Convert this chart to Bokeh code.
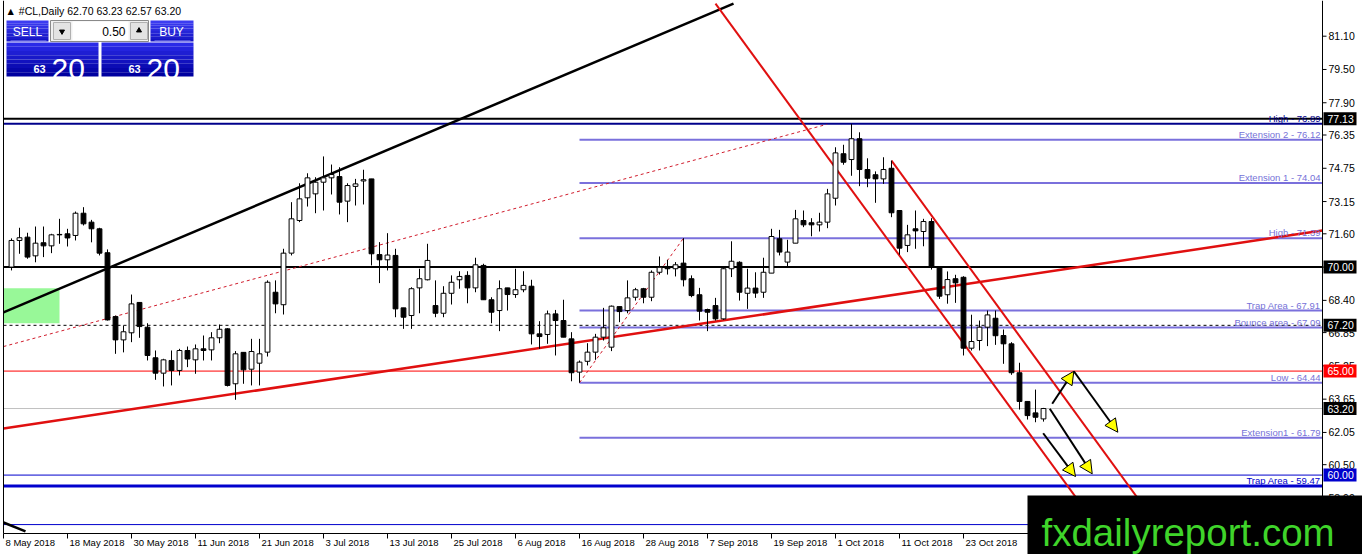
import pandas as pd
from bokeh.plotting import figure
from bokeh.models import ColumnDataSource, Range1d, Arrow, NormalHead
from bokeh.embed import file_html
from bokeh.resources import INLINE
from bokeh.core.properties import value

# ---------------- data ----------------
symbol = "#CL,Daily"
header_ohlc = [62.70, 63.23, 62.57, 63.20]
first_slot_date = "2018-05-08"      # left-most axis slot; bars start on the next trading day

opens = [70.00, 71.28, 71.44, 70.54, 71.17, 71.02, 71.55, 71.60, 71.52, 72.59,
         72.16, 71.84, 70.69, 67.62, 66.50, 66.84, 68.30, 67.11, 65.64, 64.90,
         65.51, 65.03, 65.99, 65.54, 66.07, 66.02, 66.60, 67.03, 64.39, 65.90,
         65.09, 65.38, 65.91, 68.79, 68.19, 70.67, 72.24, 73.33, 73.52, 74.08,
         74.29, 74.35, 73.17, 73.88, 74.14, 74.24, 70.60, 70.35, 70.56, 68.04,
         67.67, 69.00, 69.39, 68.15, 67.78, 68.74, 69.39, 69.60, 69.00, 70.08,
         68.43, 67.91, 69.00, 68.68, 68.91, 69.08, 66.79, 66.76, 67.75, 67.43,
         66.55, 64.95, 65.47, 65.91, 66.63, 66.15, 68.10, 67.91, 68.55, 68.96,
         68.55, 69.75, 70.03, 69.92, 70.19, 69.44, 68.67, 67.96, 68.15, 67.51,
         69.92, 70.23, 68.74, 68.99, 68.79, 69.71, 71.36, 70.24, 71.15, 72.24,
         72.13, 72.03, 72.16, 73.31, 75.45, 75.17, 76.17, 74.69, 74.44, 74.24,
         74.75, 72.72, 71.04, 71.84, 71.71, 72.19, 69.99, 68.67, 69.44, 69.51,
         66.10, 66.47, 67.11, 67.54, 66.71, 66.31, 64.92, 63.54, 62.99, 62.70]
highs = [71.38, 71.89, 71.65, 71.95, 71.95, 71.60, 72.32, 71.84, 72.67, 72.88,
         72.27, 71.89, 70.85, 67.67, 67.19, 68.68, 68.30, 67.30, 65.99, 65.59,
         65.99, 66.07, 66.18, 66.28, 66.71, 66.87, 67.24, 67.06, 65.96, 65.90,
         66.55, 66.55, 69.36, 69.36, 70.88, 73.12, 74.03, 74.51, 74.32, 75.32,
         74.93, 74.80, 74.03, 74.24, 74.68, 74.24, 71.20, 71.63, 70.88, 68.04,
         69.03, 69.92, 71.12, 69.36, 69.08, 69.60, 69.80, 69.80, 70.45, 70.16,
         68.55, 69.36, 69.00, 69.92, 69.80, 69.39, 67.40, 67.91, 67.94, 68.43,
         66.87, 65.51, 66.34, 66.79, 68.04, 68.15, 68.10, 69.36, 69.00, 69.00,
         69.84, 70.51, 70.35, 70.24, 71.39, 69.60, 69.00, 68.00, 68.52, 70.00,
         71.24, 70.28, 69.92, 69.75, 70.45, 71.84, 71.79, 71.31, 72.75, 72.72,
         72.35, 72.61, 73.76, 75.76, 75.88, 76.89, 76.48, 75.23, 74.60, 75.28,
         75.12, 72.72, 72.03, 72.72, 72.32, 72.35, 70.04, 69.79, 69.63, 69.56,
         67.71, 67.43, 67.91, 67.91, 67.00, 66.39, 65.40, 63.54, 64.11, 63.23]
lows = [69.84, 70.64, 70.40, 70.23, 70.48, 70.67, 71.12, 70.99, 71.28, 72.00,
        71.19, 70.56, 67.43, 65.83, 65.90, 66.39, 66.60, 65.51, 64.58, 64.26,
        64.31, 64.79, 65.19, 64.87, 65.51, 65.51, 66.34, 64.26, 63.62, 64.39,
        64.31, 64.31, 65.70, 67.78, 67.72, 70.56, 72.16, 72.91, 72.59, 72.72,
        73.49, 72.53, 72.16, 72.96, 73.01, 70.08, 69.23, 69.84, 67.59, 67.03,
        67.03, 67.78, 69.36, 67.59, 67.59, 68.20, 68.96, 68.26, 68.79, 68.43,
        67.30, 66.92, 67.91, 68.52, 68.79, 66.28, 66.07, 66.31, 65.75, 66.63,
        64.51, 64.44, 65.27, 65.54, 66.47, 65.96, 67.35, 67.78, 68.39, 68.26,
        68.36, 69.64, 69.64, 69.55, 69.07, 68.55, 67.43, 66.92, 67.43, 67.46,
        69.52, 68.39, 67.99, 68.52, 68.52, 69.71, 70.56, 70.03, 71.15, 71.92,
        71.48, 71.71, 71.87, 72.96, 74.92, 74.39, 73.89, 73.84, 73.09, 74.00,
        72.40, 70.59, 70.72, 70.88, 71.00, 69.88, 68.47, 68.24, 68.28, 65.75,
        65.99, 65.99, 66.20, 66.26, 65.35, 64.82, 63.15, 62.67, 62.54, 62.57]
closes = [71.28, 71.41, 70.48, 71.15, 71.02, 71.55, 71.57, 71.40, 72.59, 72.08,
          71.84, 70.67, 67.46, 66.50, 66.89, 68.23, 67.14, 65.75, 64.90, 65.54,
          65.03, 65.99, 65.58, 66.07, 65.99, 66.60, 67.01, 64.31, 65.83, 65.06,
          65.94, 65.83, 69.27, 68.23, 70.67, 72.32, 73.28, 74.29, 74.08, 74.29,
          74.45, 73.12, 73.92, 74.00, 74.20, 70.64, 70.35, 70.58, 67.99, 67.59,
          68.96, 69.44, 70.32, 67.78, 68.74, 69.27, 69.55, 69.00, 70.11, 68.43,
          67.83, 68.96, 68.68, 68.91, 69.12, 66.79, 66.66, 67.75, 67.43, 66.63,
          64.92, 65.43, 65.91, 66.63, 67.08, 68.12, 67.86, 68.52, 68.91, 68.55,
          69.75, 69.99, 69.92, 70.11, 69.39, 68.63, 67.88, 67.83, 67.51, 69.92,
          70.28, 68.79, 68.99, 68.75, 69.75, 71.47, 70.72, 70.72, 72.32, 72.03,
          72.03, 72.16, 73.52, 75.49, 75.04, 76.17, 74.69, 74.27, 74.24, 74.69,
          72.61, 70.91, 71.55, 71.74, 72.19, 70.04, 68.60, 69.40, 69.24, 66.10,
          66.42, 67.11, 67.70, 66.70, 66.31, 64.92, 63.54, 62.86, 62.78, 63.20]

date_tick_labels = ["8 May 2018", "18 May 2018", "30 May 2018", "11 Jun 2018",
                    "21 Jun 2018", "3 Jul 2018", "13 Jul 2018", "25 Jul 2018",
                    "6 Aug 2018", "16 Aug 2018", "28 Aug 2018", "7 Sep 2018",
                    "19 Sep 2018", "1 Oct 2018", "11 Oct 2018", "23 Oct 2018"]
price_ticks = [81.10, 79.50, 77.90, 76.35, 74.75, 73.15, 71.60, 70.00,
               68.40, 66.85, 65.25, 63.65, 62.05, 60.50, 58.90]

full_levels = [77.13, 76.89, 70.00, 67.20, 65.00, 63.20, 60.00, 59.47, 57.62]
tagged_levels = [76.89, 59.47]
tagged_names = ["High", "Trap Area"]
fib_levels = [76.12, 74.04, 71.39, 67.91, 67.09, 64.44, 61.79]
fib_names = ["Extension 2", "Extension 1", "High", "Trap Area", "Bounce area", "Low", "Extension1"]
fib_start_date = "2018-08-16"
price_boxes = [77.13, 70.00, 67.20, 65.00, 63.20, 60.00]

# trend lines: (bar slots, prices)
tl_black = ([0, 91.25], [67.82, 82.67])
tl_black_low = ([0, 2.75], [57.72, 57.29])
tl_red_dash = ([0, 102.9], [66.18, 76.86])
tl_red_support = ([0, 164.875], [62.24, 71.76])
tl_channel_lower = ([89, 137.35], [82.67, 57.19])
tl_channel_upper = ([111, 145.0], [75.12, 57.19])
tl_fib_swing = ([72, 85], [64.44, 71.39])
zone_slots = [0, 7]
zone_prices = [67.30, 68.98]
arrows_xy = [(131.09, 63.43, 133.79, 64.99), (133.79, 64.99, 139.29, 62.06),
             (130.79, 63.19, 136.09, 60.06), (129.96, 62.01, 134.00, 59.93)]

# ---------------- layout helpers (canvas pixels -> data) ----------------
W, H = 1362, 554
PXB = 8.0        # pixels per bar
PXP = 20.8       # pixels per dollar
def X(px):
    return (px - 3) / PXB
def Y(py):
    return 81.10 - (py - 35.7) / PXP

FONT = value("Liberation Sans")
CL, CR, CB = 3, 1322, 533     # chart area: left, right, bottom (canvas px)

slots = pd.bdate_range(first_slot_date, periods=len(opens) + 1)
bar_x = list(range(1, len(opens) + 1))
tick_slots = [int(slots.get_loc(pd.to_datetime(t, format="%d %b %Y"))) for t in date_tick_labels]
fib_x0 = int(slots.get_loc(pd.Timestamp(fib_start_date)))

p = figure(width=W, height=H, x_range=Range1d(X(0), X(W)), y_range=Range1d(Y(H), Y(0)),
           x_axis_location=None, y_axis_location=None,
           output_backend="svg", toolbar_location=None, min_border=0,
           background_fill_color="white", border_fill_color="white")
p.grid.visible = False
p.outline_line_color = None

# green zone
p.quad(left=[zone_slots[0]], right=[zone_slots[1]], bottom=[zone_prices[0]],
       top=[zone_prices[1]], fill_color="#98f898", line_color=None)

# full width levels
lvl_style = {77.13: ("black", 2, "solid"), 76.89: ("#00008b", 2, "solid"),
             70.00: ("black", 2, "solid"), 67.20: ("black", 1, "3 3"),
             65.00: ("#ff0000", 1, "solid"), 63.20: ("#c0c0c0", 1, "solid"),
             60.00: ("#0000cd", 1, "solid"), 59.47: ("#0000cd", 3, "solid"),
             57.62: ("#0000cd", 1, "solid")}
for lv in full_levels:
    c, w, d = lvl_style[lv]
    p.segment(x0=[X(CL)], y0=[lv], x1=[X(CR)], y1=[lv], line_color=c, line_width=w, line_dash=d)

# fib levels
FIB_C = "#7a70dc"
n = len(fib_levels)
p.segment(x0=[fib_x0] * n, y0=fib_levels, x1=[X(CR)] * n, y1=fib_levels,
          line_color=FIB_C, line_width=2)

# trend lines
p.line(tl_black[0], tl_black[1], line_color="black", line_width=2.5)
p.line(tl_black_low[0], tl_black_low[1], line_color="black", line_width=2.5)
p.line(tl_red_dash[0], tl_red_dash[1], line_color="#d01c2c", line_width=1, line_dash="3 3")
p.line(tl_fib_swing[0], tl_fib_swing[1], line_color="#d01c2c", line_width=1, line_dash="3 3")
p.line(tl_red_support[0], tl_red_support[1], line_color="#e01010", line_width=2.5)
p.line(tl_channel_lower[0], tl_channel_lower[1], line_color="#e01010", line_width=2)
p.line(tl_channel_upper[0], tl_channel_upper[1], line_color="#e01010", line_width=2)

# candles
src = ColumnDataSource(dict(
    x=bar_x, o=opens, h=highs, l=lows, c=closes,
    top=[max(a, b) for a, b in zip(opens, closes)],
    bot=[min(a, b) for a, b in zip(opens, closes)],
    fill=["white" if c >= o else "black" for o, c in zip(opens, closes)]))
p.segment(x0="x", y0="l", x1="x", y1="h", source=src, line_color="black", line_width=1)
p.vbar(x="x", width=0.6, top="top", bottom="bot", source=src, fill_color="fill",
       line_color="black", line_width=1)

# arrows
for (x0, y0, x1, y1) in arrows_xy:
    p.add_layout(Arrow(x_start=x0, y_start=y0, x_end=x1, y_end=y1, line_color="black",
                       line_width=2, end=NormalHead(size=13, fill_color="#ffff00",
                                                    line_color="black", line_width=1)))

# level labels (right-aligned, sitting on their lines)
lab_x, lab_y, lab_t, lab_c = [], [], [], []
for lv, nm in zip(fib_levels, fib_names):
    lab_x.append(X(CR - 2)); lab_y.append(lv); lab_t.append(f"{nm} - {lv:.2f}"); lab_c.append("#7672d8")
for lv, nm, tc in zip(tagged_levels, tagged_names, ["#00008b", "#0000cd"]):
    lab_x.append(X(CR - 2)); lab_y.append(lv); lab_t.append(f"{nm} - {lv:.2f}"); lab_c.append(tc)
p.text(x=lab_x, y=lab_y, text=lab_t, text_color=lab_c, text_font=FONT,
       text_font_size="9.5px", text_align="right", text_baseline="bottom")

# chart border and axes
p.segment(x0=[X(CL), X(CL), X(CR)], y0=[Y(0), Y(CB), Y(0)],
          x1=[X(CL), X(CR), X(CR)], y1=[Y(CB), Y(CB), Y(CB)],
          line_color="black", line_width=1)
# right price axis
p.segment(x0=[X(CR)] * len(price_ticks), y0=price_ticks, x1=[X(CR + 4)] * len(price_ticks),
          y1=price_ticks, line_color="black", line_width=1)
p.text(x=[X(CR + 6)] * len(price_ticks), y=price_ticks, text=[f"{v:.2f}" for v in price_ticks],
       text_font=FONT, text_font_size="10.5px", text_color="black",
       text_align="left", text_baseline="middle")
# bottom date axis
p.segment(x0=tick_slots, y0=[Y(CB)] * len(tick_slots), x1=tick_slots,
          y1=[Y(CB + 5)] * len(tick_slots), line_color="black", line_width=1)
p.text(x=[t + 2 / PXB for t in tick_slots], y=[Y(541.5)] * len(tick_slots),
       text=date_tick_labels, text_font=FONT, text_font_size="9.5px",
       text_color="black", text_align="left", text_baseline="middle")

# price boxes on the right axis
box_colors = {77.13: "black", 70.00: "black", 67.20: "black", 65.00: "#ff0000",
              63.20: "black", 60.00: "#0000cd"}
hb = 6.5 / PXP
p.quad(left=[X(CR + 1)] * len(price_boxes), right=[X(CR + 34)] * len(price_boxes),
       top=[v + hb for v in price_boxes], bottom=[v - hb for v in price_boxes],
       fill_color=[box_colors[v] for v in price_boxes], line_color=None)
p.text(x=[X(CR + 5)] * len(price_boxes), y=price_boxes, text=[f"{v:.2f}" for v in price_boxes],
       text_font=FONT, text_font_size="10.5px", text_color="white",
       text_align="left", text_baseline="middle")

# header
p.text(x=[X(5)], y=[Y(10.5)], text=["\u25b2 " + symbol + "  " + " ".join(f"{v:.2f}" for v in header_ohlc)],
       text_font=FONT, text_font_size="10.5px", text_color="black",
       text_align="left", text_baseline="middle")

# one-click trading widget
def hexmix(c1, c2, t):
    a = [int(c1[i:i + 2], 16) for i in (1, 3, 5)]
    b = [int(c2[i:i + 2], 16) for i in (1, 3, 5)]
    return "#" + "".join(f"{int(round(u + (v - u) * t)):02x}" for u, v in zip(a, b))

L, R, T, B, C = [], [], [], [], []
def grad(l, r, t, b, ct, cb, k_n=8):
    for k in range(k_n):
        L.append(X(l)); R.append(X(r))
        T.append(Y(t + (b - t) * k / k_n)); B.append(Y(t + (b - t) * (k + 1) / k_n))
        C.append(hexmix(ct, cb, k / (k_n - 1)))
grad(6, 48, 20, 41, "#3c3cf2", "#1414c4")
grad(150, 193, 20, 41, "#3c3cf2", "#1414c4")
grad(6, 98, 42, 76, "#2a2ae8", "#0000a0")
grad(101, 193, 42, 76, "#2a2ae8", "#0000a0")
p.quad(left=L, right=R, top=T, bottom=B, fill_color=C, line_color=None)
p.quad(left=[X(50)], right=[X(148)], top=[Y(20)], bottom=[Y(41)],
       fill_color="#f0f0f0", line_color="#8a8a8a")
p.quad(left=[X(53), X(130)], right=[X(70), X(147)], top=[Y(22)] * 2, bottom=[Y(39)] * 2,
       fill_color="#e3e3e3", line_color="#b0b0b0")
p.quad(left=[X(72)], right=[X(128)], top=[Y(21)], bottom=[Y(40)],
       fill_color="white", line_color=None)
p.scatter(x=[X(61.5)], y=[Y(31)], marker="inverted_triangle", size=5, color="black")
p.scatter(x=[X(138.5)], y=[Y(30)], marker="triangle", size=5, color="black")
p.segment(x0=[X(10), X(154)], y0=[Y(40.5)] * 2, x1=[X(46), X(190)], y1=[Y(40.5)] * 2,
          line_color="#8f8ff5", line_width=1)

p.text(x=[X(27), X(171)], y=[Y(31)] * 2, text=["SELL", "BUY"], text_font=FONT,
       text_font_size="12px", text_color="white", text_align="center", text_baseline="middle")
p.text(x=[X(125)], y=[Y(31)], text=["0.50"], text_font=FONT, text_font_size="12px",
       text_color="black", text_align="right", text_baseline="middle")
p.text(x=[X(33), X(128)], y=[Y(68.5)] * 2, text=["63", "63"], text_font=FONT,
       text_font_size="11px", text_font_style=value("bold"), text_color="white",
       text_align="left", text_baseline="alphabetic")
p.text(x=[X(51), X(146)], y=[Y(68.5)] * 2, text=["20", "20"], text_font=FONT,
       text_font_size="30px", text_color="white", text_align="left", text_baseline="alphabetic")

# logo
p.quad(left=[X(1027)], right=[X(W + 2)], top=[Y(495)], bottom=[Y(H + 2)],
       fill_color="black", line_color=None)
p.text(x=[X(1041)], y=[Y(532)], text=["fxdailyreport.com"], text_font=FONT,
       text_font_size="38.5px", text_color="#3fd42a", text_align="left", text_baseline="alphabetic")

open("out.html", "w").write(file_html(p, INLINE))
